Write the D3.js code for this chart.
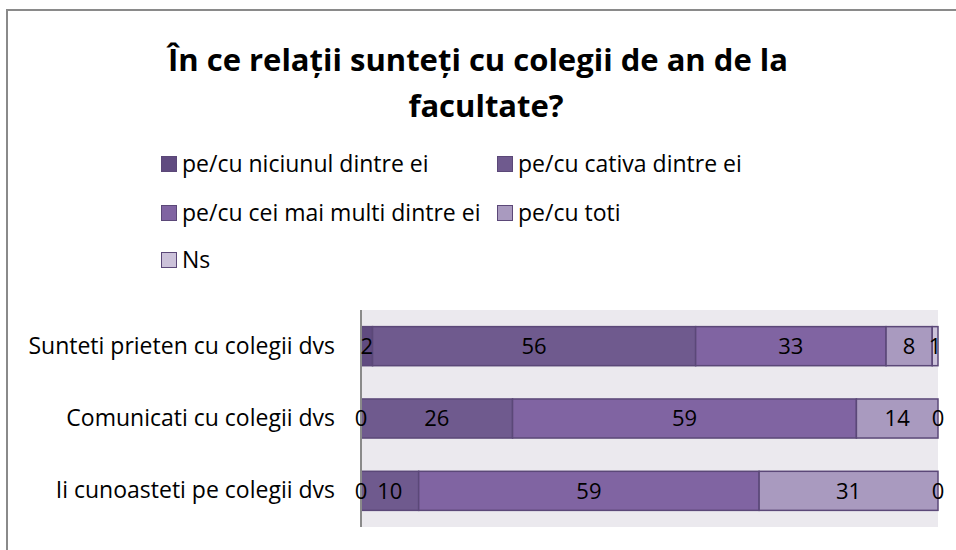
<!DOCTYPE html>
<html>
<head>
<meta charset="utf-8">
<script src="https://cdn.jsdelivr.net/npm/d3@7"></script>
<style>
  body { margin: 0; background: #fff; }
  svg { display: block; font-family: "Open Sans", sans-serif; }
</style>
</head>
<body>
<div id="chartDiv"></div>
<script>

const categories = ['Sunteti prieten cu colegii dvs', 'Comunicati cu colegii dvs', 'Ii cunoasteti pe colegii dvs'];
const seriesNames = ['pe/cu niciunul dintre ei', 'pe/cu cativa dintre ei', 'pe/cu cei mai multi dintre ei', 'pe/cu toti', 'Ns'];
const niciunul = [2, 0, 0];
const cativa = [56, 26, 10];
const ceiMaiMulti = [33, 59, 59];
const toti = [8, 14, 31];
const ns = [1, 0, 0];
const seriesColors = ['#604b80', '#6f5a8e', '#8064a2', '#a99abf', '#ccc2da'];

const width = 956, height = 550;
const plot = { left: 361, right: 938, top: 310, bottom: 527 };

const svg = d3.select('#chartDiv').append('svg')
  .attr('width', width)
  .attr('height', height);

// outer chart frame (right/bottom edges fall outside the picture)
svg.append('rect')
  .attr('x', 7).attr('y', 10)
  .attr('width', 1000).attr('height', 600)
  .attr('fill', 'none')
  .attr('stroke', '#8a8a8a')
  .attr('stroke-width', 2);

// title
const title = svg.append('text')
  .attr('text-anchor', 'middle')
  .attr('font-weight', 'bold')
  .attr('font-size', 31)
  .attr('fill', '#000');
title.append('tspan').attr('x', 478).attr('y', 71).text('În ce relații sunteți cu colegii de an de la');
title.append('tspan').attr('x', 486).attr('y', 117).text('facultate?');

// build rows for the stack
const seriesValues = [niciunul, cativa, ceiMaiMulti, toti, ns];
const rows = categories.map((c, i) => {
  const r = { category: c };
  seriesNames.forEach((s, j) => { r[s] = seriesValues[j][i]; });
  return r;
});

const stack = d3.stack().keys(seriesNames).offset(d3.stackOffsetExpand);
const layers = stack(rows);

const x = d3.scaleLinear().domain([0, 1]).range([plot.left, plot.right]);
const y = d3.scaleBand().domain(categories).range([plot.top, plot.bottom])
  .paddingInner(0.46).paddingOuter(0.23);
const color = d3.scaleOrdinal().domain(seriesNames).range(seriesColors);

// plot background
svg.append('rect')
  .attr('x', plot.left).attr('y', plot.top)
  .attr('width', plot.right - plot.left)
  .attr('height', plot.bottom - plot.top)
  .attr('fill', '#ebe9ee');

// bars
const barG = svg.append('g');
barG.selectAll('g')
  .data(layers)
  .enter().append('g')
  .attr('fill', d => color(d.key))
  .selectAll('rect')
  .data(d => d)
  .enter().append('rect')
  .attr('x', d => x(d[0]))
  .attr('y', d => y(d.data.category))
  .attr('width', d => x(d[1]) - x(d[0]))
  .attr('height', y.bandwidth())
  .attr('stroke', '#5b4878')
  .attr('stroke-width', 1.5);

// category axis
const yAxis = svg.append('g')
  .attr('transform', `translate(${plot.left},0)`)
  .call(d3.axisLeft(y).tickSize(0).tickPadding(26));
yAxis.select('.domain')
  .attr('stroke', '#8a8a8a')
  .attr('stroke-width', 2)
  .attr('d', `M0,${plot.top}V${plot.bottom}`);
yAxis.selectAll('.tick text')
  .attr('font-family', '"Open Sans", sans-serif')
  .attr('font-size', 23)
  .attr('fill', '#000');

// value labels (on top of the axis line)
const labelG = svg.append('g');
layers.forEach(layer => {
  labelG.selectAll(null)
    .data(layer)
    .enter().append('text')
    .attr('x', d => (x(d[0]) + x(d[1])) / 2)
    .attr('y', d => y(d.data.category) + y.bandwidth() / 2)
    .attr('dy', '0.36em')
    .attr('text-anchor', 'middle')
    .attr('font-size', 22)
    .attr('fill', '#000')
    .text(d => d.data[layer.key]);
});

// legend
const legendCols = [161, 497];
const legendRows = [164, 213, 260];
const legend = svg.selectAll('g.legend-item')
  .data(seriesNames)
  .enter().append('g')
  .attr('class', 'legend-item')
  .attr('transform', (d, i) => `translate(${legendCols[i % 2]},${legendRows[Math.floor(i / 2)]})`);

legend.append('rect')
  .attr('x', 0.5).attr('y', -7.5)
  .attr('width', 15).attr('height', 15)
  .attr('fill', d => color(d))
  .attr('stroke', '#5b4878')
  .attr('stroke-width', 1);

legend.append('text')
  .attr('x', 21)
  .attr('dy', '0.36em')
  .attr('font-size', 23)
  .attr('fill', '#000')
  .text(d => d);

</script>
</body>
</html>
